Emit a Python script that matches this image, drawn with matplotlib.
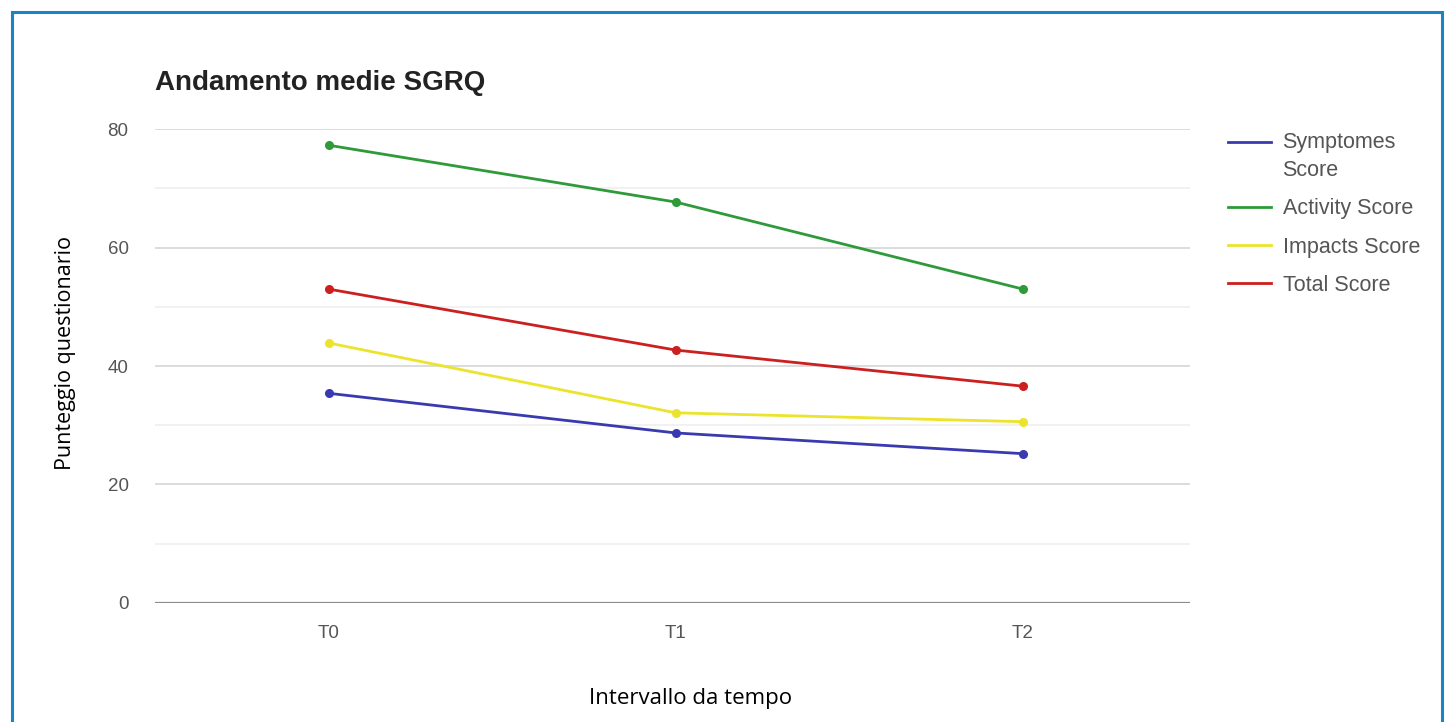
import matplotlib.pyplot as plt
from matplotlib.patches import Rectangle

times = ["T0", "T1", "T2"]
symptomes = [35.4, 28.7, 25.2]
activity = [77.3, 67.7, 53.0]
impacts = [43.9, 32.1, 30.6]
total = [53.0, 42.7, 36.6]

labels = ["Symptomes\nScore", "Activity Score", "Impacts Score", "Total Score"]
colors = ["#3a3ab0", "#2e9a3a", "#ece42c", "#cc1f1f"]

fig = plt.figure(figsize=(14.54, 7.22), dpi=100)
ax = fig.add_axes([0.1066, 0.165, 0.7115, 0.656])

x = range(len(times))
for vals, lab, c in zip([symptomes, activity, impacts, total], labels, colors):
    ax.plot(x, vals, color=c, lw=2, marker="o", ms=5.5, label=lab)

ax.set_xlim(-0.5, 2.48)
ax.set_ylim(0, 80)
ax.set_yticks([0, 20, 40, 60, 80])
ax.set_yticks([10, 30, 50, 70], minor=True)
ax.set_xticks(list(x))
ax.set_xticklabels(times)
ax.grid(axis="y", which="major", color="#d6d6d6", lw=1.2)
ax.grid(axis="y", which="minor", color="#efefef", lw=1.2)
ax.axhline(0, color="#8c8c8c", lw=1.6)
ax.set_axisbelow(True)
for s in ax.spines.values():
    s.set_visible(False)
ax.tick_params(axis="both", which="both", length=0, labelsize=13.5,
               labelcolor="#555555", labelfontfamily="Liberation Sans")
ax.tick_params(axis="y", pad=19)
ax.tick_params(axis="x", pad=16)

ax.set_title("Andamento medie SGRQ", loc="left", fontsize=20, fontweight="bold",
             family="Liberation Sans", color="#222222", pad=28, x=0.0)

fig.text(0.045, 0.511, "Punteggio questionario", rotation=90, ha="center", va="center",
         fontsize=15.5, family="Open Sans")
fig.text(0.475, 0.032, "Intervallo da tempo", ha="center", va="center",
         fontsize=16, family="Open Sans")

leg = ax.legend(loc="upper left", bbox_to_anchor=(0.831, 0.844), bbox_transform=fig.transFigure,
                frameon=False, handlelength=2.0, handletextpad=0.55,
                labelspacing=0.8, prop={"family": "Liberation Sans", "size": 15.5})
for t in leg.get_texts():
    t.set_color("#555555")
    t.set_linespacing(1.45)
for h in leg.get_lines():
    h.set_marker("")
# put the first handle beside the first line of its two-line label
h0 = leg.get_lines()[0]
h0.set_ydata([y + 10.5 for y in h0.get_ydata()])

fig.patches.append(Rectangle((0.008, -0.02), 0.984, 1.003, transform=fig.transFigure,
                             fill=False, edgecolor="#1a82c8", lw=2.2))

fig.savefig("out.png", dpi=100)
